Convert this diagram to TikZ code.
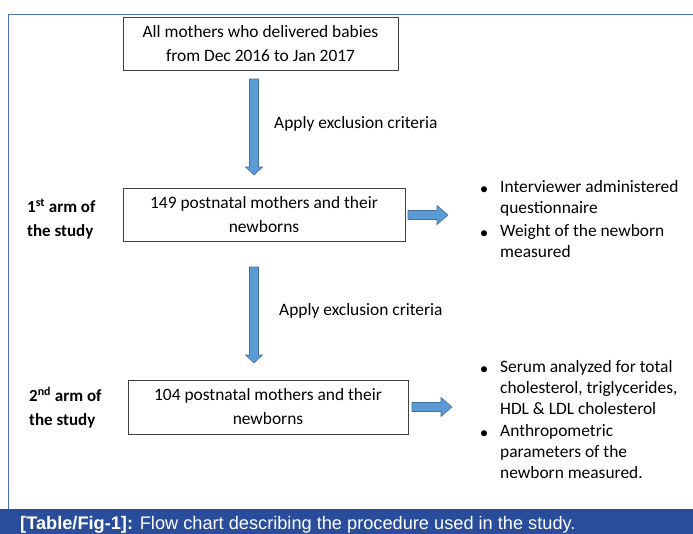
\documentclass[tikz,border=0pt]{standalone}
\usepackage{fontspec}
\setmainfont{Carlito}
\newfontfamily\capfont{Liberation Sans}
\usetikzlibrary{calc}
\definecolor{framecol}{HTML}{4A6FB5}
\definecolor{capbar}{HTML}{2A4D9B}
\definecolor{arrfill}{HTML}{5B9BD5}
\definecolor{arrline}{HTML}{41719C}
\tikzset{
  x=1pt, y=-1pt,
  box/.style={draw=black!75, line width=0.9pt, fill=white, inner sep=0pt, align=center,
    font=\fontsize{17.4}{24}\selectfont},
  lab/.style={font=\fontsize{17.4}{22}\selectfont, inner sep=0pt, anchor=west},
  armlab/.style={font=\fontsize{17}{24}\selectfont\bfseries, inner sep=0pt, align=left, anchor=west},
  bul/.style={font=\fontsize{17.4}{21.3}\selectfont, inner sep=0pt, align=left, anchor=north west},
  dot/.style={font=\fontsize{17}{21.3}\selectfont, inner sep=0pt},
  blk/.style={fill=arrfill, draw=arrline, line width=0.6pt, line join=miter}
}
\newcommand{\downarr}[2]{% from coordinate #1 to coordinate #2 (vertical)
  \path let \p1=(#1), \p2=(#2) in
    [blk] (\x1-4.5pt,\y1) -- (\x1+4.5pt,\y1) -- (\x1+4.5pt,\y2+8pt) -- (\x1+8.5pt,\y2+8pt)
    -- (\x1,\y2) -- (\x1-8.5pt,\y2+8pt) -- (\x1-4.5pt,\y2+8pt) -- cycle;}
\newcommand{\rightarr}[2]{% horizontal
  \path let \p1=(#1), \p2=(#2) in
    [blk] (\x1,\y1+4.5pt) -- (\x1,\y1-4.5pt) -- (\x2-11pt,\y1-4.5pt) -- (\x2-11pt,\y1-9.5pt)
    -- (\x2,\y1) -- (\x2-11pt,\y1+9.5pt) -- (\x2-11pt,\y1+4.5pt) -- cycle;}
\begin{document}
\begin{tikzpicture}
\useasboundingbox (0,0) rectangle (693,533);
\fill[white] (0,0) rectangle (693,533);
% frame
\draw[framecol, line width=1.2pt] (8.5,509) -- (8.5,14.5) -- (700,14.5);
% caption bar
\fill[capbar] (0,509) rectangle (693,540);
\node[anchor=base west, inner sep=0pt, text=white, font=\capfont\fontsize{18.2}{20}\selectfont] (cap) at (20,529)
  {\textbf{[Table/Fig-1]:} Flow chart describing the procedure used in the study.};

% boxes
\node[box, minimum width=275pt, minimum height=53pt] (top) at (260.5,43.5)
  {All mothers who delivered babies\\from Dec 2016 to Jan 2017};
\node[box, minimum width=282pt, minimum height=53pt] (b1) at (264,214.5)
  {149 postnatal mothers and their\\newborns};
\node[box, minimum width=280pt, minimum height=54pt] (b2) at (268,407)
  {104 postnatal mothers and their\\newborns};

% vertical arrows
\coordinate (a1s) at (254,79);
\coordinate (a1e) at (254,175);
\coordinate (a2s) at (254,267);
\coordinate (a2e) at (254,363);
\downarr{a1s}{a1e}
\downarr{a2s}{a2e}
\node[lab] (ex1) at (274,124) {Apply exclusion criteria};
\node[lab] (ex2) at (279,311) {Apply exclusion criteria};

% arm labels
\node[armlab] (arm1) at (27,219) {1\textsuperscript{st} arm of\\the study};
\node[armlab] (arm2) at (29,408) {2\textsuperscript{nd} arm of\\the study};

% horizontal arrows
\coordinate (h1s) at (408,215);
\coordinate (h1e) at (448,215);
\coordinate (h2s) at (412,407);
\coordinate (h2e) at (452,407);
\rightarr{h1s}{h1e}
\rightarr{h2s}{h2e}

% bullets
\node[dot] (d1) at (484,191) {\textbullet};
\node[bul] (t1) at (500,180) {Interviewer administered\\questionnaire};
\node[dot] (d2) at (484,235) {\textbullet};
\node[bul] (t2) at (500,224) {Weight of the newborn\\measured};
\node[dot] (d3) at (484,371) {\textbullet};
\node[bul] (t3) at (500,360) {Serum analyzed for total\\cholesterol, triglycerides,\\HDL \& LDL cholesterol};
\node[dot] (d4) at (484,435) {\textbullet};
\node[bul] (t4) at (500,424) {Anthropometric\\parameters of the\\newborn measured.};
\end{tikzpicture}
\end{document}
